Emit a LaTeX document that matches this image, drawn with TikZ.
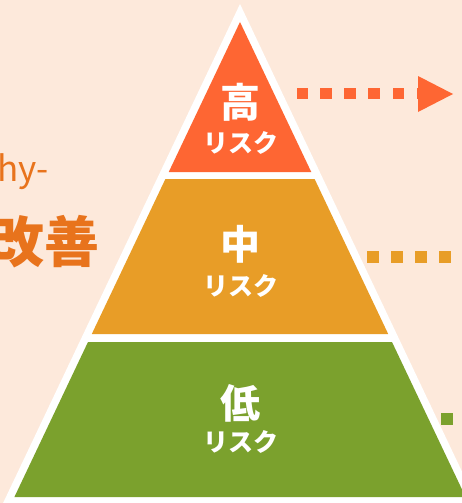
\documentclass[tikz,border=0pt]{standalone}
\usepackage{fontspec}
\newfontfamily\cjk{Noto Sans CJK JP}
\definecolor{bgpeach}{HTML}{FDE9DB}
\definecolor{highc}{HTML}{FE6633}
\definecolor{midc}{HTML}{E89D27}
\definecolor{lowc}{HTML}{7BA12D}
\definecolor{titlec}{HTML}{E8731C}
\tikzset{
  bigchar/.style={text=white, inner sep=0pt, font=\cjk\bfseries\fontsize{40}{40}\selectfont},
  risklabel/.style={text=white, inner sep=0pt, font=\cjk\bfseries\fontsize{25}{25}\selectfont},
  sqmark/.style={minimum size=11.5pt, inner sep=0pt, draw=none}
}
\begin{document}
\begin{tikzpicture}[x=1pt,y=-1pt]
\useasboundingbox (0,0) rectangle (462,503);
\clip (0,0) rectangle (462,503);
\fill[bgpeach] (0,0) rectangle (462,503);
% white outer pyramid
\fill[white] (240,4) -- (485,520) -- (-5,520) -- cycle;
% layers
\fill[highc] (240,22) -- (311.25,172) -- (168.75,172) -- cycle;
\fill[midc] (165.4,179) -- (314.6,179) -- (388.2,334) -- (91.8,334) -- cycle;
\fill[lowc] (88,342) -- (392,342) -- (465.6,497) -- (14.4,497) -- cycle;
% labels
\node[bigchar] (hi) at (240.5,102.5) {高};
\node[risklabel] (hir) at (241,143) {リスク};
\node[bigchar] (mi) at (240.5,244) {中};
\node[risklabel] (mir) at (241,286) {リスク};
\node[bigchar] (lo) at (240.5,403) {低};
\node[risklabel] (lor) at (241,442) {リスク};
% left partial title
\node[anchor=base east, inner sep=0pt, text=titlec, font=\cjk\fontsize{35}{35}\selectfont] (hy) at (49,181) {hy-};
\node[anchor=east, inner sep=0pt, text=titlec, font=\cjk\bfseries\fontsize{55}{55}\selectfont] (kaizen) at (100,242) {改善};
% dotted arrows
\foreach \x [count=\i] in {302.5,326,350,374,398.5,422.5}
  \node[sqmark, fill=highc] (hs\i) at (\x,93.5) {};
\fill[highc] (418,76) -- (453,94) -- (418,112) -- cycle;
\foreach \x [count=\i] in {373,397,421,445,469}
  \node[sqmark, fill=midc] (ms\i) at (\x,257) {};
\foreach \x [count=\i] in {447,471}
  \node[sqmark, fill=lowc] (ls\i) at (\x,419) {};
\end{tikzpicture}
\end{document}
